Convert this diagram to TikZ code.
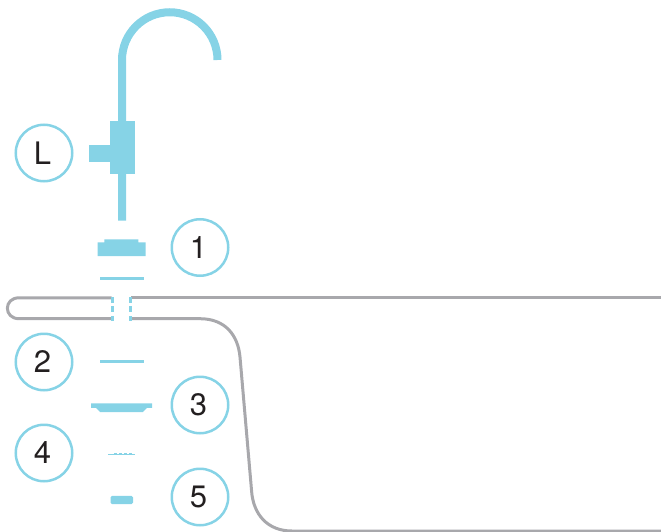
\documentclass[tikz,border=0pt]{standalone}
\usepackage{fontspec}
\setmainfont{TeX Gyre Heros}
\definecolor{tapblue}{HTML}{86D3E6}
\definecolor{sinkgray}{HTML}{A8A8AC}
\definecolor{labelink}{HTML}{231F20}
\tikzset{
    callout/.style={circle, draw=tapblue, line width=2.5pt, minimum size=56.5pt, inner sep=0pt, text=labelink, font=\fontsize{31}{31}\selectfont, execute at begin node=\kern-3pt},
    part/.style={fill=tapblue, draw=none},
    spout/.style={draw=tapblue, line width=8pt},
    sink/.style={draw=sinkgray, line width=3pt},
    seal/.style={draw=tapblue, line width=2.4pt, dash pattern=on 6pt off 3.4pt}
}
\begin{document}
\begin{tikzpicture}[x=1pt, y=-1pt]
    \useasboundingbox (0,0) rectangle (661,532);
    % tap
    \draw[spout] (122,220.5) -- (122,60) arc[start angle=180, end angle=360, radius=47.75];
    \fill[part] (109.5,121.5) rectangle (134.5,174);
    \fill[part] (88.5,145) rectangle (110,162);
    % sink
    \draw[sink] (111.5,297.8) -- (19,297.8) .. controls (3.5,297.8) and (3.5,318.7) .. (19,318.7) -- (111.5,318.7);
    \draw[sink] (661,297.8) -- (131,297.8);
    \draw[sink] (131,318.7) -- (200,318.7) .. controls (225,318.7) and (238,335) .. (240,357)
        -- (251.5,490) .. controls (253,515) and (268,531) .. (292,531) -- (661,531);
    \draw[seal] (112.5,297) -- (112.5,321);
    \draw[seal] (130.5,297) -- (130.5,321);
    % parts
    \fill[part] (97.7,242.3) -- (104.3,242.3) -- (104.3,239.3) -- (138.3,239.3) -- (138.3,242.3)
        -- (145.7,242.3) -- (145.7,256) -- (97.7,256) -- cycle;
    \fill[part] (100,277) rectangle (144,280);
    \fill[part] (100,360) rectangle (144,363);
    \fill[part] (91,403.3) -- (152,403.3) -- (152,407.8) -- (147,407.8) -- (143,412) -- (100,412)
        -- (96,407.8) -- (91,407.8) -- cycle;
    \fill[part] (108,454) rectangle (135,455.2);
    \foreach \x in {114,119,124,129}
        \fill[part] (\x,453.2) rectangle (\x+2.5,454);
    \fill[part, rounded corners=1.5pt] (110.5,495.8) rectangle (133,504);
    % labels
    \node[callout] (labelL) at (44,153) {L};
    \node[callout] (label1) at (200,247.5) {1};
    \node[callout] (label2) at (44,362) {2};
    \node[callout] (label3) at (200,405) {3};
    \node[callout] (label4) at (44,453) {4};
    \node[callout] (label5) at (200,497) {5};
\end{tikzpicture}
\end{document}
